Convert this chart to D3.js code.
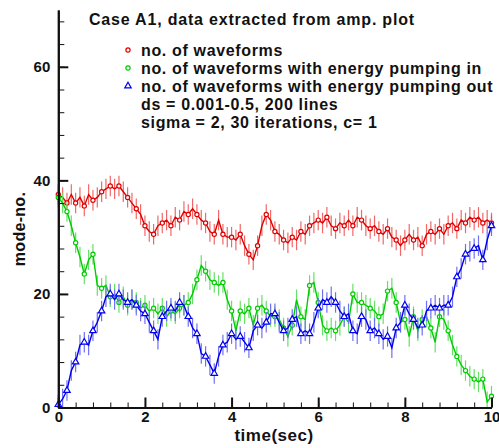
<!DOCTYPE html>
<html>
<head>
<meta charset="utf-8">
<script src="https://cdn.jsdelivr.net/npm/d3@7"></script>
<style>
  body { margin: 0; background: #fff; }
  text { font-family: Arial, "Liberation Sans", sans-serif; font-weight: bold; fill: #111; }
</style>
</head>
<body>
<script>

// time axis, one sample every 0.1 sec
var times = d3.range(0, 101).map(function(i) { return i / 10; });

// no. of waveforms (red)
var totalWaves = [
  37.5, 37, 36, 37.5, 36, 37, 35.5, 37.5, 36.5, 37,
  38, 38.5, 39, 38.5, 39, 38, 37, 36, 35, 34,
  32, 31, 30.5, 32, 32.5, 33, 32, 33.5, 33, 34.5,
  34, 35, 34, 33, 32.5, 31, 30.5, 33, 30.5, 30,
  30, 29.5, 30.5, 28.5, 27, 26, 28.5, 32, 34, 33,
  31, 30.5, 29.5, 29, 30, 29.5, 31, 30.5, 32, 32.5,
  33, 32.5, 33.5, 32, 31.5, 32.5, 32, 33, 32, 33.5,
  33, 32, 31.5, 32, 31, 30.5, 31.5, 30, 29.5, 28.5,
  29.5, 30.5, 29.5, 30, 28.5, 30.5, 31, 30.5, 31.5, 30.5,
  32, 32.5, 31.5, 33, 32.5, 33.5, 33, 33.5, 32.5, 33,
  32.5
];

// no. of waveforms with energy pumping in (green)
var pumpIn = [
  37, 36, 34.5, 32, 29, 26.5, 23.5, 26, 27, 21.5,
  21, 21.5, 19.5, 20, 18.5, 19.5, 18, 19, 18.5, 17.5,
  18, 17, 17.5, 16.5, 17.5, 16, 17, 16.5, 17.5, 18,
  18.5, 20, 22.5, 25, 24, 22.5, 22, 21.5, 22, 19,
  17, 13.5, 17, 16.5, 17.5, 14.5, 17.5, 18, 17, 16,
  16, 15.5, 14, 12.5, 14.5, 19, 16, 15.5, 21.5, 22,
  18.5, 14.5, 13.5, 14, 13.5, 14.5, 16, 15, 20, 18.5,
  18.5, 18, 17.5, 17, 16, 16.5, 20.5, 21, 18.5, 15,
  15.5, 12.5, 16, 13.5, 15.5, 16, 14, 11.5, 16, 15.5,
  13.5, 11, 9, 7.5, 6.5, 5.5, 5, 4.5, 5, 1,
  2
];

// no. of waveforms with energy pumping out (blue)
var pumpOut = [
  0.5, 1.5, 3, 6.5, 8, 11, 11.5, 11, 13.5, 15,
  17, 19.5, 20, 19, 20, 19, 18.5, 19, 18, 17,
  16.5, 15, 13.5, 12, 16, 17, 17.5, 17, 18.5, 18,
  16, 14, 13, 9.5, 9, 7.5, 6, 9, 11, 11.5,
  13, 12, 12.5, 11.5, 10.5, 13.5, 14.5, 14, 15, 16.5,
  16.5, 15, 13.5, 14, 15.5, 16, 13, 13.5, 13, 15,
  17.5, 19, 18.5, 19.5, 18.5, 17, 16, 16.5, 13.5, 13,
  16, 15.5, 13.5, 14, 13, 12, 12.5, 10.5, 14, 15,
  18, 16.5, 15.5, 14, 14.5, 17, 17.5, 18, 17.5, 18,
  18, 19.5, 23, 24.5, 27, 27.5, 28, 28.5, 26, 29.5,
  32
];

// half length of the vertical error bars (mode-no.)
var errHalf = 1.8;

var legendLabels = [
  'no. of waveforms',
  'no. of waveforms with energy pumping in',
  'no. of waveforms with energy pumping out'
];
var noteLines = [
  'ds = 0.001-0.5, 200 lines',
  'sigma = 2, 30 iterations, c= 1'
];
var title = 'Case A1, data extracted from amp. plot';
var xTicks = [0, 2, 4, 6, 8, 10];
var yTicks = [0, 20, 40, 60];

var series = [
  { name: legendLabels[0], values: totalWaves, color: '#e00000', bar: '#f06868', shape: 'circle' },
  { name: legendLabels[1], values: pumpIn, color: '#00cc00', bar: '#66e066', shape: 'circle' },
  { name: legendLabels[2], values: pumpOut, color: '#0000ee', bar: '#7070f4', shape: 'triangle' }
];

var W = 499, H = 448;
var svg = d3.select('body').append('svg')
  .attr('width', W)
  .attr('height', H);

var x = d3.scaleLinear().domain([0, 10]).range([58.3, 491.5]);
var y = d3.scaleLinear().domain([0, 70]).range([407.5, 10]);

// ------------------------ DATA ------------------------
var triangle = d3.symbol().type(d3.symbolTriangle).size(18);

series.forEach(function(s) {
  var pts = times.map(function(t, i) { return { t: t, v: s.values[i] }; });
  var g = svg.append('g');

  // error bars
  g.selectAll('line.err')
    .data(pts)
    .enter()
    .append('line')
    .attr('class', 'err')
    .attr('x1', function(d) { return x(d.t); })
    .attr('x2', function(d) { return x(d.t); })
    .attr('y1', function(d) { return y(Math.max(0, d.v - errHalf)); })
    .attr('y2', function(d) { return y(d.v + errHalf); })
    .attr('stroke', s.bar)
    .attr('stroke-width', 1.2);

  g.append('path')
    .datum(pts)
    .attr('fill', 'none')
    .attr('stroke', s.color)
    .attr('stroke-width', 1.4)
    .attr('d', d3.line().x(function(d) { return x(d.t); }).y(function(d) { return y(d.v); }));

  // hollow markers on every other sample
  var marked = pts.filter(function(d, i) { return i % 2 === 0; });
  if (s.shape === 'circle') {
    g.selectAll('circle')
      .data(marked)
      .enter()
      .append('circle')
      .attr('cx', function(d) { return x(d.t); })
      .attr('cy', function(d) { return y(d.v); })
      .attr('r', 2.1)
      .attr('fill', '#fff')
      .attr('stroke', s.color)
      .attr('stroke-width', 1.2);
  } else {
    g.selectAll('path.mk')
      .data(marked)
      .enter()
      .append('path')
      .attr('class', 'mk')
      .attr('d', triangle)
      .attr('transform', function(d) { return 'translate(' + x(d.t) + ',' + y(d.v) + ')'; })
      .attr('fill', '#fff')
      .attr('stroke', s.color)
      .attr('stroke-width', 1.2);
  }
});

// ------------------------ AXES ------------------------
function styleAxis(g, major) {
  g.select('.domain').attr('stroke', '#111').attr('stroke-width', 2);
  g.selectAll('.tick line').attr('stroke', '#111').attr('stroke-width', major ? 2 : 1);
  g.selectAll('.tick text').style('font-size', '15px').attr('fill', '#111');
}

var xMinor = svg.append('g')
  .attr('transform', 'translate(0,' + y(0) + ')')
  .call(d3.axisBottom(x).tickValues(d3.range(0, 10.01, 0.4)).tickSizeInner(-5).tickSizeOuter(0).tickFormat(''));
styleAxis(xMinor, false);
var xAxis = svg.append('g')
  .attr('transform', 'translate(0,' + y(0) + ')')
  .call(d3.axisBottom(x).tickValues(xTicks).tickSizeInner(-10).tickSizeOuter(0).tickPadding(4).tickFormat(d3.format('d')));
styleAxis(xAxis, true);

var yMinor = svg.append('g')
  .attr('transform', 'translate(' + x(0) + ',0)')
  .call(d3.axisLeft(y).tickValues(d3.range(0, 70.1, 4)).tickSizeInner(-6).tickSizeOuter(0).tickFormat(''));
styleAxis(yMinor, false);
var yAxis = svg.append('g')
  .attr('transform', 'translate(' + x(0) + ',0)')
  .call(d3.axisLeft(y).tickValues(yTicks).tickSizeInner(-10).tickSizeOuter(0).tickPadding(8).tickFormat(d3.format('d')));
styleAxis(yAxis, true);

// axis titles
svg.append('text')
  .attr('x', 274)
  .attr('y', 441)
  .attr('text-anchor', 'middle')
  .style('font-size', '17px')
  .style('letter-spacing', '0.5px')
  .text('time(sec)');

svg.append('text')
  .attr('transform', 'translate(25,229) rotate(-90)')
  .attr('text-anchor', 'middle')
  .style('font-size', '16px')
  .style('letter-spacing', '0.3px')
  .text('mode-no.');

// ------------------------ TITLE & LEGEND ------------------------
svg.append('text')
  .attr('x', 89)
  .attr('y', 25)
  .style('font-size', '16px')
  .style('letter-spacing', '0.8px')
  .text(title);

var legend = svg.append('g');
series.forEach(function(s, i) {
  var ly = 50 + i * 18;
  if (s.shape === 'circle') {
    legend.append('circle')
      .attr('cx', 128).attr('cy', ly).attr('r', 2.1)
      .attr('fill', '#fff').attr('stroke', s.color).attr('stroke-width', 1.2);
  } else {
    legend.append('path')
      .attr('d', triangle)
      .attr('transform', 'translate(128,' + ly + ')')
      .attr('fill', '#fff').attr('stroke', s.color).attr('stroke-width', 1.2);
  }
  legend.append('text')
    .attr('x', 141)
    .attr('y', ly + 5.5)
    .style('font-size', '16px')
    .style('letter-spacing', '0.65px')
    .text(s.name);
});
noteLines.forEach(function(t, i) {
  legend.append('text')
    .attr('x', 141)
    .attr('y', 109.5 + i * 18)
    .style('font-size', '16px')
    .style('letter-spacing', '0.65px')
    .text(t);
});

</script>
</body>
</html>
